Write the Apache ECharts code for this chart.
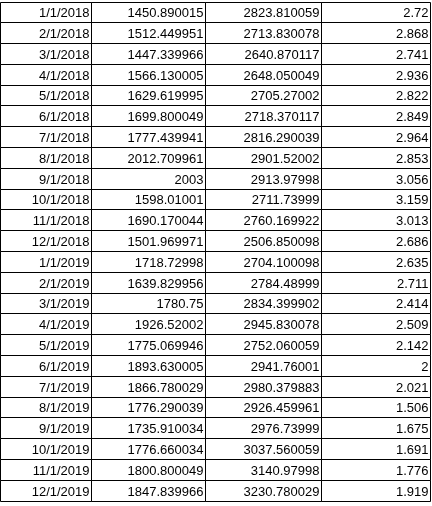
<!DOCTYPE html>
<html>
<head>
<meta charset="utf-8">
<script src="https://cdn.jsdelivr.net/npm/echarts@6/dist/echarts.min.js"></script>
<style>html,body{margin:0;padding:0;background:#fff}#chart{width:432px;height:506px}</style>
</head>
<body>
<div id="chart"></div>
<script>
const dates = ['1/1/2018','2/1/2018','3/1/2018','4/1/2018','5/1/2018','6/1/2018','7/1/2018','8/1/2018','9/1/2018','10/1/2018','11/1/2018','12/1/2018',
  '1/1/2019','2/1/2019','3/1/2019','4/1/2019','5/1/2019','6/1/2019','7/1/2019','8/1/2019','9/1/2019','10/1/2019','11/1/2019','12/1/2019'];
const colA = [1450.890015,1512.449951,1447.339966,1566.130005,1629.619995,1699.800049,1777.439941,2012.709961,2003,1598.01001,1690.170044,1501.969971,
  1718.72998,1639.829956,1780.75,1926.52002,1775.069946,1893.630005,1866.780029,1776.290039,1735.910034,1776.660034,1800.800049,1847.839966];
const colB = [2823.810059,2713.830078,2640.870117,2648.050049,2705.27002,2718.370117,2816.290039,2901.52002,2913.97998,2711.73999,2760.169922,2506.850098,
  2704.100098,2784.48999,2834.399902,2945.830078,2752.060059,2941.76001,2980.379883,2926.459961,2976.73999,3037.560059,3140.97998,3230.780029];
const colC = [2.72,2.868,2.741,2.936,2.822,2.849,2.964,2.853,3.056,3.159,3.013,2.686,
  2.635,2.711,2.414,2.509,2.142,2,2.021,1.506,1.675,1.691,1.776,1.919];

// column edges in pixel units of the x axis
const edges = [0, 91, 205, 321, 430];
const columns = [dates, colA, colB, colC];

const cells = [];
columns.forEach((col, c) => col.forEach((v, r) => cells.push([c, r, String(v)])));

const chart = echarts.init(document.getElementById('chart'));
chart.setOption({
  animation: false,
  grid: { left: 0, right: 0, top: 2, bottom: 5 },
  xAxis: { type: 'value', min: 0, max: 432, show: false },
  yAxis: { type: 'category', data: dates, inverse: true, show: false },
  series: [{
    type: 'custom',
    data: cells,
    renderItem: function (params, api) {
      const c = api.value(0), r = api.value(1);
      const left = api.coord([edges[c], r]);
      const right = api.coord([edges[c + 1], r]);
      const h = api.size([0, 1])[1];
      const x0 = Math.round(left[0]) + 0.5, x1 = Math.round(right[0]) + 0.5;
      const y0 = Math.floor(left[1] - h / 2 + 0.01) + 0.5;
      const y1 = Math.floor(left[1] + h / 2 + 0.01) + 0.5;
      return {
        type: 'group',
        children: [{
          type: 'rect',
          shape: { x: x0, y: y0, width: x1 - x0, height: y1 - y0 },
          style: { fill: 'none', stroke: '#000', lineWidth: 1 }
        }, {
          type: 'text',
          style: {
            text: cells[params.dataIndex][2],
            x: x1 - 2, y: (y0 + y1) / 2 + 1,
            align: 'right', verticalAlign: 'middle',
            fill: '#000', font: '13px "Liberation Sans", Arial, sans-serif'
          }
        }]
      };
    }
  }]
});
</script>
</body>
</html>
